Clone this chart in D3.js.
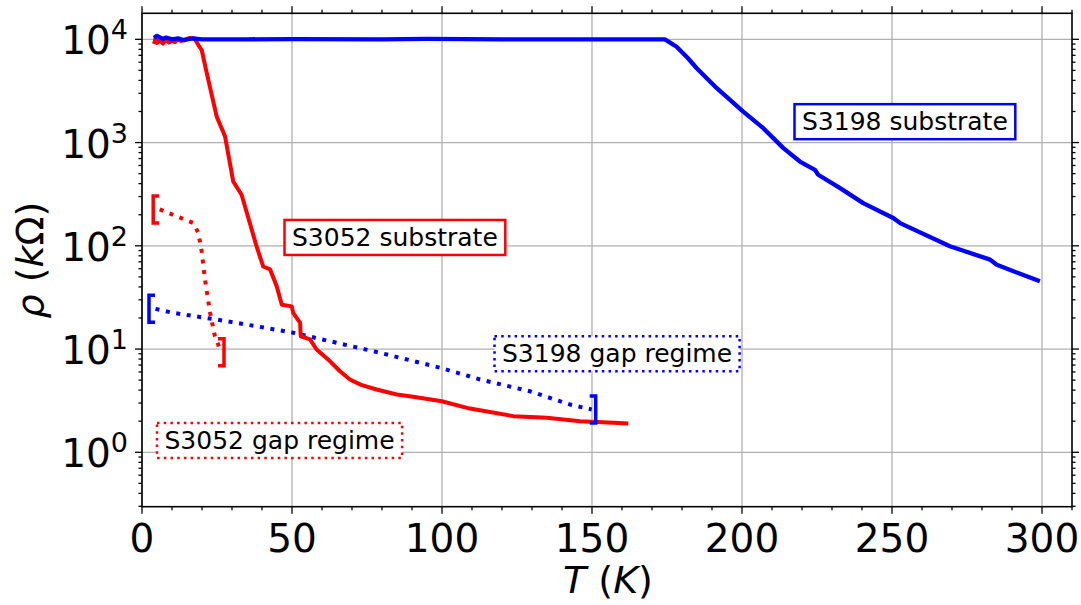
<!DOCTYPE html>
<html lang="en">
<head>
    <meta charset="UTF-8">
    <title>Resistivity vs temperature</title>
    <script src="https://cdnjs.cloudflare.com/ajax/libs/d3/7.8.5/d3.min.js"></script>
    <style>
        body { margin: 0; background: #fff; }
        svg { display: block; font-family: "DejaVu Sans", sans-serif; }
        .grid { stroke: #b0b0b0; stroke-width: 1.3; }
        .spine { stroke: #000; stroke-width: 1.6; fill: none; }
        .tick { stroke: #000; stroke-width: 1.3; }
    </style>
</head>
<body>
<script>
// S3198 substrate (blue solid)
const blueT   = [4, 5, 6, 7, 8, 10, 12, 14, 15, 17, 20, 35, 50, 80, 95, 120, 150, 174.3,
                 178.2, 182, 184.9, 191.6, 200.4, 207.1, 213.8, 219.3, 224.3, 225.4, 232.7, 240.4,
                 250.4, 252.7, 269.3, 282.7, 284.9, 294.9, 299.3];
const blueRho = [10300, 10800, 10400, 10100, 10400, 10000, 10200, 9800, 10000, 10200, 10000,
                 10000, 10050, 10000, 10100, 10000, 10000, 10000,
                 8480, 6550, 5250, 3360, 1995, 1377, 883, 655, 545, 488, 362, 259,
                 186, 166, 99, 73.5, 65.6, 50.6, 45.3];

// S3052 substrate (red solid)
const redT   = [4, 4.5, 5, 6, 7, 8, 9, 10, 11, 12, 13, 14, 16, 17.5, 18.8, 19.9,
                21.6, 24.9, 27.7, 30.4, 33.2, 38.2, 40.4, 42.7, 44.9, 46.6, 49.9, 50.4,
                52.7, 52.9, 56, 58.2, 62.7, 66, 69.3, 73, 78.2, 84.9, 90.4, 99.9, 109.3, 123.8,
                134.9, 146, 157.1, 162.1];
const redRho = [9000, 10200, 9200, 9800, 9100, 9900, 9300, 9700, 9400, 10000, 9600, 9900,
                10300, 10200, 8800, 7880,
                4690, 1784, 1143, 420, 312, 98.6, 63, 59, 40.5, 26.9, 25.9, 22.4,
                17.9, 13.3, 12.4, 9.9, 7.6, 6.1, 5.07, 4.5, 4.06, 3.63, 3.45, 3.12, 2.65, 2.24,
                2.16, 2.0, 1.93, 1.9];

// S3198 gap regime (blue dotted)
const blueGapT   = [4.5, 10.4, 24.9, 38.2, 50.4, 79.3, 99.3, 112.7, 129.3, 142.7, 149.9];
const blueGapRho = [24.5, 22.4, 19.3, 16.6, 14.4, 9.2, 6.6, 5.07, 3.9, 2.9, 2.6];

// S3052 gap regime (red dotted)
const redGapT   = [5.9, 17.1, 18.8, 19.9, 21, 22.7, 24.3, 25.4, 26];
const redGapRho = [225, 166, 133, 88, 47, 22.4, 13.3, 11.1, 9.3];

// annotations
const annLabels = ["S3198 substrate", "S3052 substrate", "S3198 gap regime", "S3052 gap regime"];
const annT      = [220, 50, 120, 7.5];
const annRho    = [1600, 121, 9.06, 1.31];
const annColor  = ["#0000ff", "#ff0000", "#0000ff", "#ff0000"];
const annDotted = [false, false, true, true];

const xTicks = [0, 50, 100, 150, 200, 250, 300];
const yTicks = [1, 10, 100, 1000, 10000];

const W = 1081, H = 605;
const mLeft = 142, mRight = 1072, mTop = 13.3, mBottom = 506.7;

const x = d3.scaleLinear().domain([0, 310]).range([mLeft, mRight]);
const y = d3.scaleLog().domain([Math.pow(10, -0.527), Math.pow(10, 4.252)]).range([mBottom, mTop]);

const svg = d3.select("body").append("svg").attr("width", W).attr("height", H);

// grid
svg.selectAll(".gx").data(xTicks).enter().append("line")
    .attr("class", "grid")
    .attr("x1", d => x(d)).attr("x2", d => x(d)).attr("y1", mTop).attr("y2", mBottom);
svg.selectAll(".gy").data(yTicks).enter().append("line")
    .attr("class", "grid")
    .attr("x1", mLeft).attr("x2", mRight).attr("y1", d => y(d)).attr("y2", d => y(d));

// ticks (outward on all four sides)
const xMinor = d3.range(0, 311, 10).filter(d => d % 50 !== 0);
const yMinor = [];
[-1, 0, 1, 2, 3, 4].forEach(e => {
    for (let k = 2; k <= 9; k++) {
        const v = k * Math.pow(10, e);
        if (v >= y.domain()[0] && v <= y.domain()[1]) yMinor.push(v);
    }
});
function xTickMarks(vals, len) {
    vals.forEach(v => {
        svg.append("line").attr("class", "tick")
            .attr("x1", x(v)).attr("x2", x(v)).attr("y1", mBottom).attr("y2", mBottom + len);
        svg.append("line").attr("class", "tick")
            .attr("x1", x(v)).attr("x2", x(v)).attr("y1", mTop).attr("y2", mTop - len);
    });
}
function yTickMarks(vals, len) {
    vals.forEach(v => {
        svg.append("line").attr("class", "tick")
            .attr("x1", mLeft).attr("x2", mLeft - len).attr("y1", y(v)).attr("y2", y(v));
        svg.append("line").attr("class", "tick")
            .attr("x1", mRight).attr("x2", mRight + len).attr("y1", y(v)).attr("y2", y(v));
    });
}
xTickMarks(xTicks, 7);
xTickMarks(xMinor, 3.5);
yTickMarks(yTicks, 7);
yTickMarks(yMinor, 3.5);

// tick labels
svg.selectAll(".xl").data(xTicks).enter().append("text")
    .attr("x", d => x(d)).attr("y", mBottom + 45)
    .attr("text-anchor", "middle").attr("font-size", 39)
    .text(d => d);
const yl = svg.selectAll(".yl").data(yTicks).enter().append("text")
    .attr("x", 128).attr("y", d => y(d) + 15)
    .attr("text-anchor", "end").attr("font-size", 39);
yl.append("tspan").text("10");
yl.append("tspan").attr("font-size", 27).attr("dy", -15).text(d => Math.round(Math.log10(d)));

// axis labels (math symbols italic, brackets upright)
const xLab = svg.append("text")
    .attr("x", 608).attr("y", 593)
    .attr("text-anchor", "middle").attr("font-size", 38);
xLab.append("tspan").attr("font-style", "italic").text("T");
xLab.append("tspan").text(" (");
xLab.append("tspan").attr("font-style", "italic").text("K");
xLab.append("tspan").text(")");

const yLab = svg.append("text")
    .attr("transform", `translate(43,${(mTop + mBottom) / 2}) rotate(-90)`)
    .attr("text-anchor", "middle").attr("font-size", 38);
yLab.append("tspan").attr("font-style", "italic").text("ρ");
yLab.append("tspan").text(" (");
yLab.append("tspan").attr("font-style", "italic").text("k");
yLab.append("tspan").text("Ω)");

// lines
const line = d3.line().x(d => x(d[0])).y(d => y(d[1]));
const zip = (a, b) => a.map((v, i) => [v, b[i]]);

svg.append("path").datum(zip(redGapT, redGapRho))
    .attr("d", line).attr("fill", "none").attr("stroke", "#ff0000")
    .attr("stroke-width", 4).attr("stroke-dasharray", "4,6.6");
svg.append("path").datum(zip(blueGapT, blueGapRho))
    .attr("d", line).attr("fill", "none").attr("stroke", "#0000ff")
    .attr("stroke-width", 4).attr("stroke-dasharray", "4,6.6");
svg.append("path").datum(zip(redT, redRho))
    .attr("d", line).attr("fill", "none").attr("stroke", "#ff0000")
    .attr("stroke-width", 4).attr("stroke-linejoin", "round");
svg.append("path").datum(zip(blueT, blueRho))
    .attr("d", line).attr("fill", "none").attr("stroke", "#0000ff")
    .attr("stroke-width", 4.3).attr("stroke-linejoin", "round");

// bracket markers at the ends of the gap-regime lines
function bracket(px, py, open, color) {
    const h = 13.5, w = 6;
    const bx = open ? px - 6.5 : px + 4;
    const tx = open ? bx + w : bx - w;
    svg.append("path")
        .attr("d", `M${tx},${py - h} L${bx},${py - h} L${bx},${py + h} L${tx},${py + h}`)
        .attr("fill", "none").attr("stroke", color).attr("stroke-width", 3.5);
}
bracket(x(redGapT[0]), y(redGapRho[0]), true, "#ff0000");
bracket(x(redGapT[redGapT.length - 1]), y(redGapRho[redGapRho.length - 1]), false, "#ff0000");
bracket(x(blueGapT[0]), y(blueGapRho[0]), true, "#0000ff");
bracket(x(blueGapT[blueGapT.length - 1]), y(blueGapRho[blueGapRho.length - 1]), false, "#0000ff");

// annotation boxes
annLabels.forEach((lab, i) => {
    const g = svg.append("g");
    const t = g.append("text")
        .attr("x", x(annT[i])).attr("y", y(annRho[i]) + 8.7)
        .attr("font-size", 25).attr("fill", "#000")
        .text(lab);
    const bb = t.node().getBBox();
    g.insert("rect", "text")
        .attr("x", bb.x - 7.5).attr("y", bb.y - 3)
        .attr("width", bb.width + 15).attr("height", bb.height + 6)
        .attr("fill", "#fff").attr("stroke", annColor[i])
        .attr("stroke-width", 2.5)
        .attr("stroke-dasharray", annDotted[i] ? "2.5,4.2" : null);
});

// spines
svg.append("rect").attr("class", "spine")
    .attr("x", mLeft).attr("y", mTop).attr("width", mRight - mLeft).attr("height", mBottom - mTop);
</script>
</body>
</html>
